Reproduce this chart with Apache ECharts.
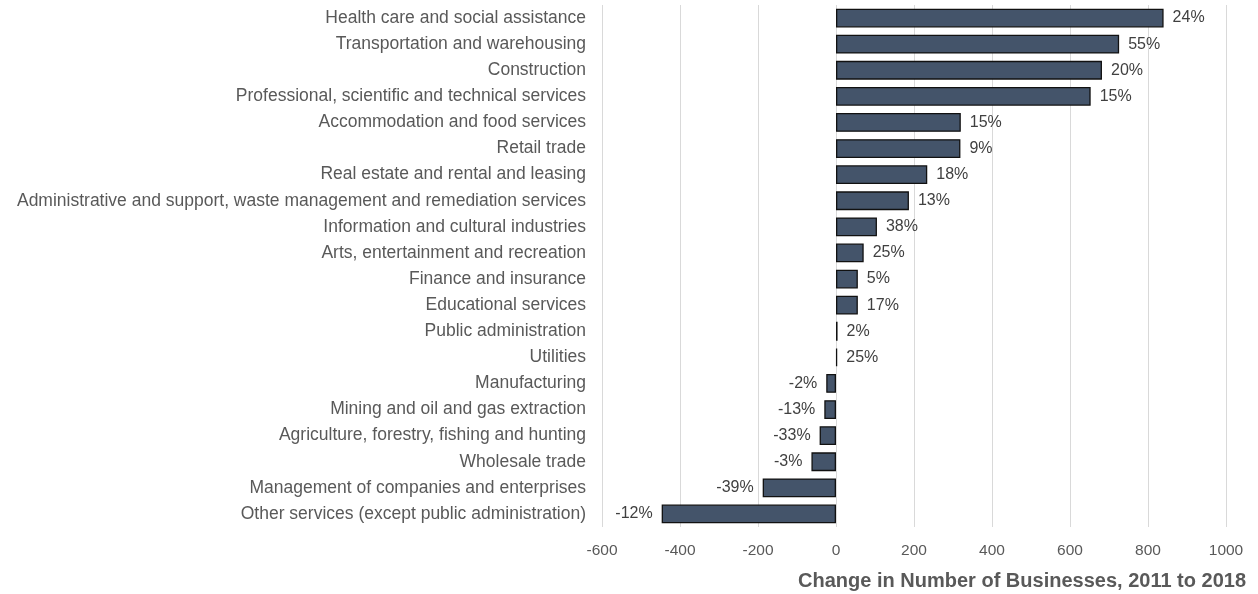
<!DOCTYPE html>
<html><head><meta charset="utf-8">
<script src="https://cdn.jsdelivr.net/npm/echarts@6/dist/echarts.min.js"></script>
<style>html,body{margin:0;padding:0;background:#fff}#c{width:1258px;height:594px}</style>
</head><body><div id="c"></div>
<script>
const categories = [
  "Health care and social assistance",
  "Transportation and warehousing",
  "Construction",
  "Professional, scientific and technical services",
  "Accommodation and food services",
  "Retail trade",
  "Real estate and rental and leasing",
  "Administrative and support, waste management and remediation services",
  "Information and cultural industries",
  "Arts, entertainment and recreation",
  "Finance and insurance",
  "Educational services",
  "Public administration",
  "Utilities",
  "Manufacturing",
  "Mining and oil and gas extraction",
  "Agriculture, forestry, fishing and hunting",
  "Wholesale trade",
  "Management of companies and enterprises",
  "Other services (except public administration)"
];
const changeValues = [840, 726, 682, 653, 320, 319, 234, 187, 105, 71, 56, 56, 4, 3, -25, -30, -42, -63, -188, -447];
const pctLabels = ["24%","55%","20%","15%","15%","9%","18%","13%","38%","25%","5%","17%","2%","25%","-2%","-13%","-33%","-3%","-39%","-12%"];
const xTicks = [-600, 1000, 200];
const axisTitle = "Change in Number of Businesses, 2011 to 2018";

const chart = echarts.init(document.getElementById('c'), null, {renderer: 'canvas'});
const FONT = '"Liberation Sans", Arial, sans-serif';
chart.setOption({
  animation: false,
  title: {
    text: axisTitle, right: 7, top: 566,
    textStyle: {fontFamily: FONT, fontSize: 20, fontWeight: 'bold', color: '#595959'}
  },
  grid: {left: 602, right: 32, top: 5, bottom: 67, containLabel: false},
  xAxis: {
    type: 'value', min: xTicks[0], max: xTicks[1], interval: xTicks[2],
    axisLine: {show: false}, axisTick: {show: false},
    splitLine: {show: true, lineStyle: {color: '#d9d9d9', width: 1}},
    axisLabel: {fontFamily: FONT, fontSize: 15.5, color: '#595959', margin: 16, formatter: v => String(v)}
  },
  yAxis: {
    type: 'category', data: categories, inverse: true,
    axisLine: {show: false}, axisTick: {show: false},
    axisLabel: {fontFamily: FONT, fontSize: 17.5, color: '#595959', margin: 16}
  },
  series: [{
    type: 'bar',
    data: changeValues.map((v, i) => ({
      value: v,
      label: {position: v >= 0 ? 'right' : 'left'}
    })),
    barCategoryGap: '28%',
    itemStyle: {color: '#44546A', borderColor: '#111', borderWidth: 1.3},
    label: {
      show: true, distance: 9,
      fontFamily: FONT, fontSize: 16, color: '#404040',
      formatter: p => pctLabels[p.dataIndex]
    }
  }]
});
</script></body></html>
